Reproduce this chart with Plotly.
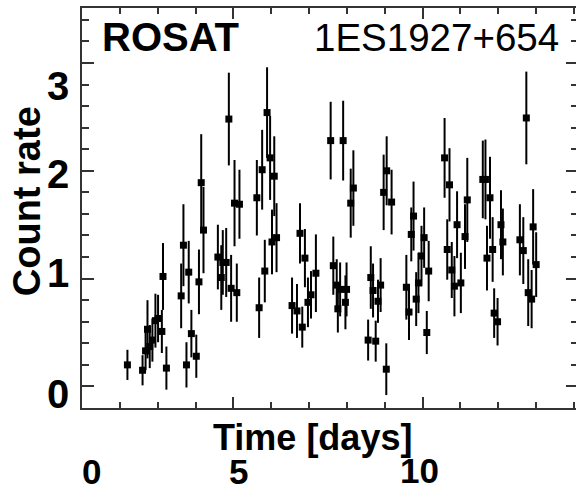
import plotly.graph_objects as go

# ---- data ----
time_days = [2.20, 2.60, 2.68, 2.73, 2.79, 2.86, 2.94, 3.01, 3.11, 3.14, 3.23, 3.62, 3.68, 3.76, 3.82,
             3.89, 4.02, 4.09, 4.15, 4.21, 4.59, 4.68, 4.72, 4.81, 4.88, 4.94, 5.03, 5.09, 5.16, 5.62,
             5.68, 5.76, 5.83, 5.89, 5.97, 6.02, 6.08, 6.14, 6.55, 6.68, 6.76, 6.82, 6.89, 6.97, 7.05,
             7.18, 7.57, 7.64, 7.73, 7.76, 7.82, 7.90, 7.96, 7.99, 8.10, 8.17, 8.56, 8.63, 8.69, 8.76,
             8.82, 8.89, 8.97, 9.04, 9.05, 9.18, 9.57, 9.64, 9.70, 9.76, 9.83, 9.89, 9.97, 10.04, 10.11,
             10.16, 10.58, 10.65, 10.71, 10.77, 10.84, 10.91, 11.01, 11.12, 11.18, 11.59, 11.66, 11.70,
             11.78, 11.85, 11.89, 11.98, 12.07, 12.12, 12.57, 12.66, 12.74, 12.79, 12.88, 12.92, 13.00]
count_rate = [0.20, 0.15, 0.33, 0.53, 0.37, 0.43, 0.61, 0.63, 0.51, 1.02, 0.17, 0.84, 1.31, 0.20, 1.06,
              0.49, 0.28, 0.97, 1.89, 1.45, 1.20, 1.01, 1.15, 1.15, 2.48, 0.91, 1.70, 0.87, 1.69, 1.75,
              0.73, 2.01, 1.07, 2.54, 2.12, 1.34, 1.95, 1.38, 0.75, 0.70, 1.42, 0.55, 1.19, 0.78, 0.85,
              1.05, 2.28, 1.12, 0.94, 0.72, 0.90, 2.28, 0.78, 0.90, 1.70, 1.84, 0.43, 1.01, 0.89, 0.42,
              0.79, 0.94, 1.80, 0.16, 2.00, 1.71, 0.92, 0.69, 1.41, 1.58, 0.81, 0.96, 1.21, 1.38, 0.50,
              1.07, 2.12, 1.27, 1.87, 1.08, 0.93, 1.50, 0.96, 1.39, 1.73, 1.92, 1.92, 1.19,
              1.75, 1.27, 0.68, 0.60, 1.50, 1.34, 1.36, 1.26, 2.49, 0.87, 0.81, 1.48, 1.13]
rate_err = [0.14, 0.14, 0.18, 0.27, 0.20, 0.20, 0.25, 0.22, 0.20, 0.31, 0.20, 0.30, 0.38, 0.21, 0.29,
            0.22, 0.20, 0.30, 0.45, 0.40, 0.30, 0.30, 0.30, 0.32, 0.43, 0.31, 0.40, 0.27, 0.32, 0.35,
            0.28, 0.37, 0.29, 0.42, 0.39, 0.30, 0.37, 0.32, 0.26, 0.25, 0.28, 0.19, 0.27, 0.23, 0.22,
            0.36, 0.36, 0.27, 0.24, 0.22, 0.25, 0.37, 0.25, 0.25, 0.32, 0.35, 0.19, 0.29, 0.25, 0.19,
            0.20, 0.25, 0.35, 0.24, 0.32, 0.30, 0.30, 0.26, 0.25, 0.32, 0.25, 0.28, 0.28, 0.28, 0.20,
            0.28, 0.37, 0.28, 0.34, 0.26, 0.28, 0.31, 0.28, 0.30, 0.39, 0.36, 0.37, 0.30,
            0.38, 0.30, 0.23, 0.22, 0.32, 0.31, 0.33, 0.31, 0.43, 0.31, 0.27, 0.35, 0.30]

x_tick_labels = ["0", "5", "10"]
y_tick_labels = ["0", "1", "2", "3"]
x_title = "Time [days]"
y_title = "Count rate"
instrument = "ROSAT"
source_name = "1ES1927+654"

# figure is a little wider than the 576 px window so the right frame line falls just outside it
W, H = 580, 489
ML, MR, MT, MB = 82, 0, 8, 81
PW, PH = W - ML - MR, H - MT - MB
X_MAX = 1 + PW / 38.0


def px(x):
    return (x - ML) / PW


def py(y):
    return (H - MB - y) / PH


FONT = "Liberation Sans, Arial, Helvetica, sans-serif"
AX = "#333333"

fig = go.Figure()
fig.add_trace(go.Scatter(
    x=time_days, y=count_rate, mode="markers",
    marker=dict(symbol="square", size=7, color="black"),
    error_y=dict(type="data", array=rate_err, visible=True, color="black", thickness=2, width=0),
    showlegend=False, hoverinfo="x+y",
))

axis_common = dict(showline=True, linecolor=AX, linewidth=2, mirror="allticks", ticks="inside",
                   tickcolor=AX, tickwidth=2, showgrid=False, zeroline=False, showticklabels=False)
fig.update_xaxes(range=[1, X_MAX], tickvals=[5, 10], ticklen=11,
                 minor=dict(dtick=1, tick0=0, ticklen=6, ticks="inside", tickcolor=AX, tickwidth=2, showgrid=False),
                 **axis_common)
fig.update_yaxes(range=[-0.2, 3.51], tickvals=[0, 1, 2, 3], ticklen=12,
                 minor=dict(dtick=0.2, tick0=0, ticklen=7, ticks="inside", tickcolor=AX, tickwidth=2, showgrid=False),
                 **axis_common)

ann = []
for lab, (cx, cy) in zip(x_tick_labels, [(92, 471), (239, 471), (421, 470)]):
    ann.append(dict(text=lab, x=px(cx), y=py(cy), xanchor="center", yanchor="middle",
                    font=dict(family=FONT, size=35, color="black", weight="bold")))
for lab, (cx, cy) in zip(y_tick_labels, [(58, 394), (58, 273), (58, 174), (58, 86)]):
    ann.append(dict(text=lab, x=px(cx), y=py(cy), xanchor="center", yanchor="middle",
                    font=dict(family=FONT, size=40, color="black", weight="bold")))
ann.append(dict(text=x_title, x=px(313), y=py(437), xanchor="center", yanchor="middle",
                font=dict(family=FONT, size=36, color="black", weight="bold")))
ann.append(dict(text=y_title, x=px(27), y=py(201), xanchor="center", yanchor="middle", textangle=-90,
                font=dict(family=FONT, size=38, color="black", weight="bold")))
ann.append(dict(text=instrument, x=px(100), y=py(37), xanchor="left", yanchor="middle",
                font=dict(family=FONT, size=40, color="black", weight="bold")))
ann.append(dict(text=source_name, x=px(563), y=py(38), xanchor="right", yanchor="middle",
                font=dict(family=FONT, size=38.5, color="black")))
for a in ann:
    a.update(xref="paper", yref="paper", showarrow=False)

fig.update_layout(width=W, height=H, margin=dict(l=ML, r=MR, t=MT, b=MB, pad=0),
                  plot_bgcolor="white", paper_bgcolor="white", annotations=ann)

fig.write_html("out.html", config={"displayModeBar": False},
               post_script="document.body.style.margin='0';document.body.style.overflow='hidden';")
